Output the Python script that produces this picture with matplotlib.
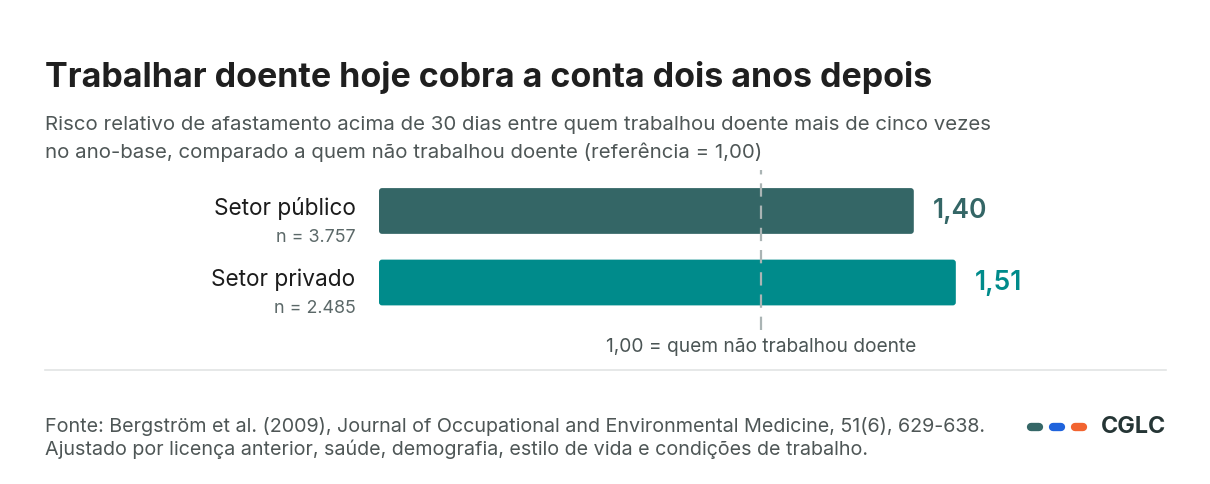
import matplotlib
matplotlib.use("Agg")
from matplotlib import pyplot as plt
from matplotlib.patches import FancyBboxPatch

# dados
setores = ["Setor público", "Setor privado"]
amostras = ["n = 3.757", "n = 2.485"]
risco = [1.40, 1.51]
rotulos = ["1,40", "1,51"]
referencia = 1.00
cores = ["#346666", "#008B8B"]

plt.rcParams["font.family"] = ["Inter", "DejaVu Sans"]

W, H = 1210, 484
fig = plt.figure(figsize=(W / 100, H / 100), dpi=100)
fig.patch.set_facecolor("white")

# eixo das barras
ax = fig.add_axes([379 / W, 1 - 330 / H, 764 / W, 160 / H])
ax.set_xlim(0, 2)
ax.set_ylim(-0.664, 1.573)
ax.axis("off")

pos = [1, 0]
alt = 0.64
px_x = 764 / 2.0          # pixels por unidade no eixo x
px_y = 160 / 2.237        # pixels por unidade no eixo y
for i in range(len(setores)):
    # barra com cantos levemente arredondados
    barra = FancyBboxPatch((0, pos[i] - alt / 2), risco[i], alt,
                           boxstyle="round,pad=0,rounding_size=%f" % (3 / px_x),
                           mutation_aspect=px_x / px_y,
                           facecolor=cores[i], edgecolor="none")
    ax.add_patch(barra)
    ax.text(risco[i] + 0.05, pos[i], rotulos[i], color=cores[i], fontsize=19,
            fontweight="semibold", va="center", ha="left")
    # rótulos à esquerda
    ax.annotate(setores[i], xy=(0, pos[i]), xytext=(-17, 2), textcoords="offset points",
                ha="right", va="center", fontsize=16.3, color="#1c1c1c")
    ax.annotate(amostras[i], xy=(0, pos[i]), xytext=(-17, -19), textcoords="offset points",
                ha="right", va="center", fontsize=12.9, color="#5b6868")

ax.axvline(referencia, ymin=0, ymax=1, color="#aab4b4", lw=1.6, dashes=(6, 4))
ax.annotate("1,00 = quem não trabalhou doente", xy=(referencia, -0.664), xytext=(0, -12),
            textcoords="offset points", ha="center", va="center", fontsize=13.8, color="#4b5555")

# título e subtítulo
fig.text(45 / W, 1 - 77 / H, "Trabalhar doente hoje cobra a conta dois anos depois",
         fontsize=24.5, fontweight="bold", color="#1f1f1f", va="center")
fig.text(45 / W, 1 - 125 / H, "Risco relativo de afastamento acima de 30 dias entre quem trabalhou doente mais de cinco vezes",
         fontsize=14.7, color="#4e5656", va="center")
fig.text(45 / W, 1 - 152 / H, "no ano-base, comparado a quem não trabalhou doente (referência = 1,00)",
         fontsize=14.7, color="#4e5656", va="center")

# linha separadora
fig.add_artist(plt.Line2D([45 / W, 1166 / W], [1 - 370 / H, 1 - 370 / H],
                          color="#e1e4e4", lw=1.2))

# rodapé
fig.text(45 / W, 1 - 427 / H,
         "Fonte: Bergström et al. (2009), Journal of Occupational and Environmental Medicine, 51(6), 629-638.",
         fontsize=14.2, color="#4e5656", va="center")
fig.text(45 / W, 1 - 449 / H,
         "Ajustado por licença anterior, saúde, demografia, estilo de vida e condições de trabalho.",
         fontsize=14.2, color="#4e5656", va="center")

# marca
for x0, c in zip([1027, 1049, 1071], ["#356767", "#1f63dc", "#f26430"]):
    fig.add_artist(plt.Line2D([(x0 + 4) / W, (x0 + 12) / W], [1 - 427 / H, 1 - 427 / H],
                              color=c, lw=6, solid_capstyle="round"))
fig.text(1101 / W, 1 - 427 / H, "CGLC", fontsize=16.8, fontweight="bold",
         color="#253535", va="center")

fig.savefig("out.png", dpi=100, facecolor="white")
